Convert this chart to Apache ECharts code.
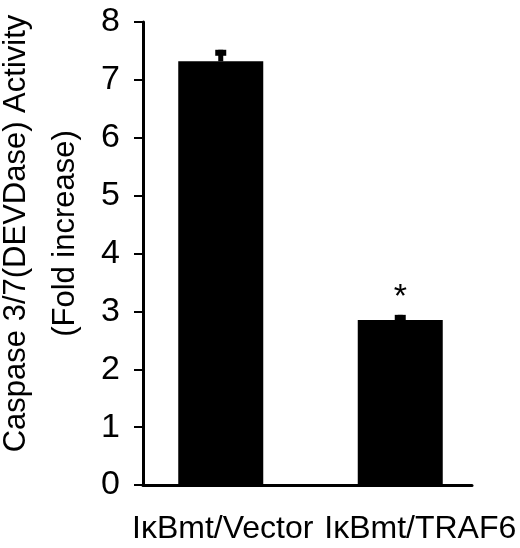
<!DOCTYPE html>
<html>
<head>
<meta charset="utf-8">
<script src="https://cdn.jsdelivr.net/npm/echarts@6/dist/echarts.min.js"></script>
<style>
  html, body { margin: 0; padding: 0; background: #fff; }
  #chart { width: 520px; height: 548px; }
</style>
</head>
<body>
<div id="chart"></div>
<script>
// data
const categories = ['IκBmt/Vector', 'IκBmt/TRAF6'];
const activity = [7.32, 2.85];
const errTop = [7.52, 2.94];
const marks = ['', '*'];
const yTicks = { min: 0, max: 8, step: 1 };

const FONT = 'Liberation Sans, Arial, sans-serif';
const NARROW = '"Liberation Sans Narrow", "Arial Narrow", "Liberation Sans", sans-serif';

// small nudges so the category labels sit where the figure has them
const labelShift = [4, 40];

const chart = echarts.init(document.getElementById('chart'));

const option = {
    animation: false,
    grid: [
        // grid for the bars
        { left: 131, width: 359, top: 22, bottom: 63, outerBoundsMode: 'none', containLabel: false },
        // grid carrying the visible axes
        { left: 143, right: 48, top: 22, bottom: 63, outerBoundsMode: 'none', containLabel: false }
    ],
    xAxis: [
        {
            type: 'category',
            gridIndex: 0,
            data: categories.map((c, i) => ({
                value: c,
                textStyle: { padding: [0, 0, 0, labelShift[i]] }
            })),
            axisLine: { show: false },
            axisTick: { show: false },
            axisLabel: {
                interval: 0,
                hideOverlap: false,
                color: '#000',
                fontSize: 32,
                fontFamily: FONT,
                margin: 28
            }
        },
        {
            type: 'value',
            gridIndex: 1,
            min: 0,
            max: 1,
            axisLine: { show: true, lineStyle: { color: '#000', width: 3 } },
            axisTick: { show: false },
            axisLabel: { show: false },
            splitLine: { show: false }
        }
    ],
    yAxis: [
        {
            type: 'value',
            gridIndex: 0,
            min: yTicks.min,
            max: yTicks.max,
            show: false
        },
        {
            type: 'value',
            gridIndex: 1,
            min: yTicks.min,
            max: yTicks.max,
            interval: yTicks.step,
            name: 'Caspase 3/7(DEVDase) Activity\n(Fold increase)',
            nameLocation: 'middle',
            nameGap: 53,
            nameTextStyle: {
                color: '#000',
                fontSize: 31,
                fontFamily: FONT,
                lineHeight: 49,
                padding: [0, 0, 0, 40]
            },
            axisLine: { show: true, lineStyle: { color: '#000', width: 3 } },
            axisTick: { show: true, length: 9, lineStyle: { color: '#000', width: 2 } },
            axisLabel: {
                color: '#000',
                fontSize: 34,
                fontFamily: NARROW,
                margin: 23,
                padding: [0, 0, 14, 0]
            },
            splitLine: { show: false }
        }
    ],
    series: [
        {
            type: 'bar',
            xAxisIndex: 0,
            yAxisIndex: 0,
            data: activity,
            barWidth: 85,
            itemStyle: { color: '#000' }
        },
        {
            type: 'custom',
            xAxisIndex: 0,
            yAxisIndex: 0,
            data: categories.map((c, i) => [i, activity[i], errTop[i]]),
            renderItem: function (params, api) {
                const base = api.coord([api.value(0), api.value(1)]);
                const top = api.coord([api.value(0), api.value(2)]);
                const mark = marks[params.dataIndex];
                const children = [
                    {
                        type: 'rect',
                        shape: { x: base[0] - 2.5, y: top[1], width: 5, height: base[1] - top[1] },
                        style: { fill: '#000' }
                    },
                    {
                        type: 'rect',
                        shape: { x: base[0] - 5.5, y: top[1], width: 11, height: 6 },
                        style: { fill: '#000' }
                    }
                ];
                if (mark) {
                    children.push({
                        type: 'text',
                        x: base[0],
                        y: top[1] - 17,
                        style: {
                            text: mark,
                            fontSize: 34,
                            fontFamily: FONT,
                            fill: '#000',
                            align: 'center',
                            verticalAlign: 'middle'
                        }
                    });
                }
                return { type: 'group', children: children };
            }
        }
    ]
};

chart.setOption(option);
</script>
</body>
</html>
